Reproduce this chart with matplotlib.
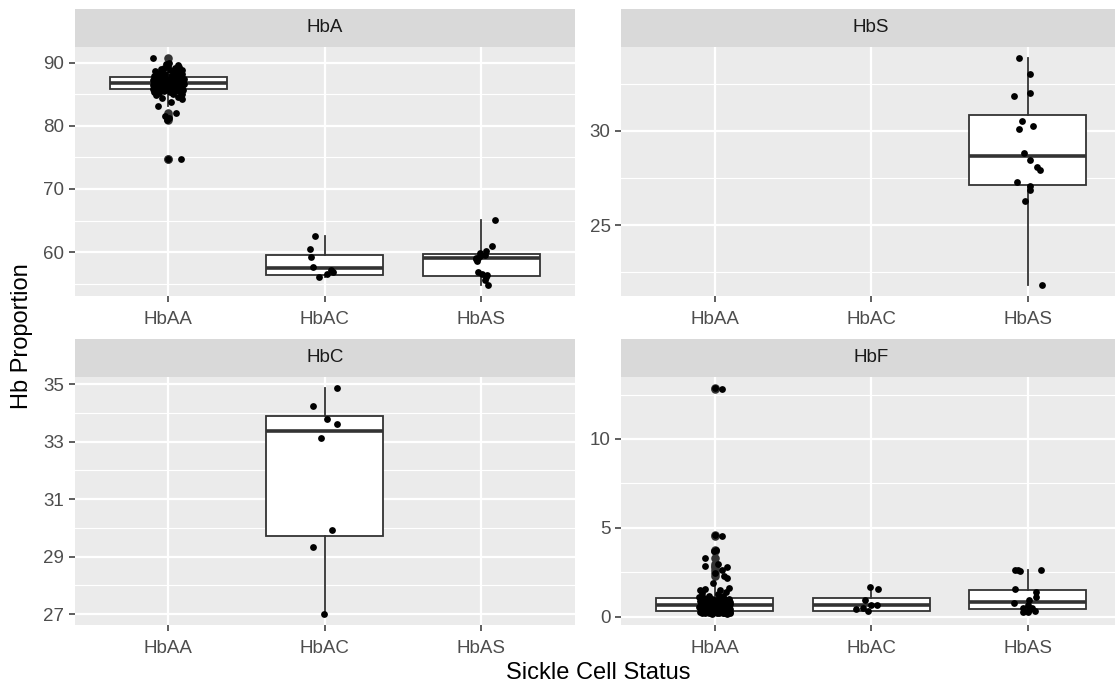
import matplotlib
matplotlib.use("Agg")
import matplotlib.pyplot as plt
import numpy as np

plt.rcParams['font.family'] = ['Liberation Sans', 'DejaVu Sans']

# ---------------- data ----------------
categories = ["HbAA", "HbAC", "HbAS"]
panels = ["HbA", "HbS", "HbC", "HbF"]

# HbA panel
hba_hbaa = [74.7, 74.8, 80.9, 81.2, 81.6, 82.0, 83.2, 83.8, 84.2, 84.4,
            84.6, 84.9, 85.0, 85.1, 85.2, 85.3, 85.4, 85.5, 85.6, 85.6,
            85.7, 85.7, 85.8, 85.8, 85.9, 85.9, 86.0, 86.0, 86.1, 86.1,
            86.2, 86.2, 86.3, 86.3, 86.3, 86.4, 86.4, 86.4, 86.5, 86.5,
            86.5, 86.6, 86.6, 86.6, 86.7, 86.7, 86.7, 86.8, 86.8, 86.8,
            86.9, 86.9, 86.9, 87.0, 87.0, 87.0, 87.1, 87.1, 87.1, 87.2,
            87.2, 87.2, 87.3, 87.3, 87.3, 87.4, 87.4, 87.4, 87.5, 87.5,
            87.5, 87.6, 87.6, 87.7, 87.7, 87.8, 87.8, 87.9, 87.9, 88.0,
            88.0, 88.1, 88.2, 88.2, 88.3, 88.4, 88.5, 88.6, 88.7, 88.8,
            88.9, 89.0, 89.1, 89.2, 89.3, 89.5, 89.6, 89.8, 90.0, 90.7]
hba_hbac = [62.6, 60.47, 59.15, 57.67, 57.09, 56.8, 56.57, 56.05]
hba_hbas = [65.06, 61.0, 60.2, 59.8, 59.6, 59.3, 59.1, 59.0, 58.9, 58.6,
            56.84, 56.57, 56.4, 56.1, 55.6, 54.83]

# HbS panel
hbs_hbas = [33.85, 33.03, 32.0, 31.85, 30.55, 30.1, 30.28, 28.81, 28.47, 28.07,
            27.94, 27.27, 27.09, 26.88, 26.31, 21.85]

# HbC panel
hbc_hbac = [34.86, 34.25, 33.80, 33.63, 33.13, 29.93, 29.32, 27.01]

# HbF panel
hbf_hbaa = [12.85, 12.80, 4.58, 4.55, 3.75, 3.70, 3.30, 3.00, 2.85, 2.83,
            2.64, 2.45, 2.30, 2.18, 1.90, 1.62, 1.58, 1.53, 1.50, 1.42,
            1.35, 1.28, 1.20, 1.15, 1.10,
            1.06, 1.04, 1.03, 1.01, 1.00, 0.98, 0.97, 0.95, 0.94, 0.92,
            0.90, 0.89, 0.87, 0.86, 0.84, 0.83, 0.81, 0.79, 0.78, 0.76,
            0.74, 0.73, 0.71, 0.70, 0.68,
            0.67, 0.66, 0.65, 0.63, 0.62, 0.60, 0.59, 0.57, 0.56, 0.54,
            0.53, 0.51, 0.50, 0.48, 0.46, 0.45, 0.43, 0.42, 0.40, 0.39,
            0.38, 0.36, 0.35, 0.33, 0.32,
            0.31, 0.31, 0.30, 0.30, 0.29, 0.29, 0.29, 0.28, 0.28, 0.27,
            0.27, 0.26, 0.26, 0.25, 0.25, 0.24, 0.24, 0.23, 0.22, 0.22,
            0.21, 0.20, 0.20, 0.19, 0.18]
hbf_hbac = [1.68, 1.58, 0.97, 0.69, 0.69, 0.46, 0.50, 0.31]
hbf_hbas = [2.66, 2.62, 2.60, 2.62, 1.56, 1.40, 1.10, 0.97, 0.78, 0.69,
            0.52, 0.48, 0.40, 0.30, 0.28, 0.32]

# horizontal jitter (category units)
jit_hba_hbaa = [0.00, 0.078, -0.01, 0.005, -0.02, 0.05, -0.068, 0.02, 0.09, -0.04,
                0.06, -0.08, 0.03, 0.085, -0.06, 0.01, -0.09, 0.07, -0.03, 0.045,
                -0.075, 0.095, -0.015, 0.055, -0.095, 0.025, -0.05, 0.08, -0.02, 0.06,
                -0.085, 0.035, -0.04, 0.09, 0.0, -0.065, 0.05, -0.1, 0.015, 0.075,
                -0.035, 0.04, -0.08, 0.1, -0.01, 0.065, -0.055, 0.02, -0.09, 0.085,
                -0.025, 0.045, -0.07, 0.01, 0.095, -0.045, 0.055, -0.085, 0.03, -0.005,
                0.07, -0.06, 0.04, -0.095, 0.085, -0.03, 0.02, -0.075, 0.06, -0.015,
                0.1, -0.05, 0.035, -0.08, 0.075, -0.035, 0.05, -0.09, 0.015, 0.08,
                -0.06, 0.03, -0.02, 0.09, -0.07, 0.045, -0.04, 0.065, -0.085, 0.01,
                0.085, -0.05, 0.04, -0.025, 0.07, 0.0, 0.06, -0.015, 0.005, -0.098]
jit_hba_hbac = [-0.063, -0.095, -0.085, -0.076, 0.037, 0.05, 0.017, -0.034]
jit_hba_hbas = [0.090, 0.068, 0.030, -0.005, 0.025, -0.010, -0.035, -0.020, -0.030, -0.025,
                -0.017, 0.004, 0.037, 0.030, 0.023, 0.041]
jit_hbs_hbas = [-0.054, 0.017, 0.017, -0.087, -0.035, -0.054, 0.035, -0.024, 0.017, 0.059,
                0.078, -0.065, 0.017, 0.013, -0.015, 0.089]
jit_hbc_hbac = [0.078, -0.076, 0.017, 0.078, -0.024, 0.049, -0.076, -0.005]
jit_hbf_hbaa = [0.0, 0.043, 0.0, 0.043, 0.01, -0.005, -0.064, 0.02, -0.064, 0.075,
                0.043, 0.0, 0.06, 0.075, -0.01, 0.09, -0.06, -0.093, 0.03, 0.07,
                -0.08, 0.02, -0.04, 0.05, -0.1,
                0.035, -0.07, 0.09, -0.02, 0.06, -0.085, 0.01, 0.075, -0.045, 0.04,
                -0.095, 0.065, -0.03, 0.1, -0.06, 0.02, -0.01, 0.085, -0.075, 0.05,
                -0.04, 0.095, 0.0, -0.09, 0.03,
                0.07, -0.055, 0.015, -0.08, 0.045, -0.02, 0.09, -0.065, 0.025, -0.1,
                0.06, -0.035, 0.08, -0.005, 0.04, -0.07, 0.1, -0.045, 0.01, 0.055,
                -0.09, 0.03, -0.015, 0.075, -0.06,
                0.02, -0.08, 0.065, -0.03, 0.095, -0.05, 0.005, 0.045, -0.095, 0.07,
                -0.025, 0.035, -0.07, 0.085, -0.01, 0.055, -0.085, 0.015, 0.1, -0.04,
                0.06, -0.065, 0.025, -0.02, 0.08]
jit_hbf_hbac = [-0.01, 0.042, -0.038, 0.0, 0.038, -0.10, -0.053, -0.021]
jit_hbf_hbas = [-0.06, -0.08, -0.05, 0.085, -0.083, 0.053, 0.053, 0.006, -0.089, 0.0,
                -0.03, 0.03, 0.01, -0.032, 0.0, 0.05]

# box statistics: (whisker low, Q1, median, Q3, whisker high)
box_hba = {"HbAA": (83.2, 85.9, 86.8, 87.7, 90.0),
           "HbAC": (56.05, 56.41, 57.47, 59.53, 62.6),
           "HbAS": (54.83, 56.2, 59.05, 59.73, 65.06)}
box_hbs = {"HbAS": (21.85, 27.16, 28.65, 30.85, 33.85)}
box_hbc = {"HbAC": (27.01, 29.73, 33.36, 33.89, 34.86)}
box_hbf = {"HbAA": (0.18, 0.31, 0.67, 1.06, 2.18),
           "HbAC": (0.31, 0.35, 0.69, 1.04, 1.68),
           "HbAS": (0.28, 0.45, 0.85, 1.53, 2.66)}

# y ticks per panel (labels shown on axis)
yticks_hba = [60, 70, 80, 90]
yticks_hbs = [25, 30]
yticks_hbc = [27, 29, 31, 33, 35]
yticks_hbf = [0, 5, 10]

panel_points = {
    "HbA": {"HbAA": (hba_hbaa, jit_hba_hbaa), "HbAC": (hba_hbac, jit_hba_hbac), "HbAS": (hba_hbas, jit_hba_hbas)},
    "HbS": {"HbAS": (hbs_hbas, jit_hbs_hbas)},
    "HbC": {"HbAC": (hbc_hbac, jit_hbc_hbac)},
    "HbF": {"HbAA": (hbf_hbaa, jit_hbf_hbaa), "HbAC": (hbf_hbac, jit_hbf_hbac), "HbAS": (hbf_hbas, jit_hbf_hbas)},
}
panel_boxes = {"HbA": box_hba, "HbS": box_hbs, "HbC": box_hbc, "HbF": box_hbf}
panel_yticks = {"HbA": yticks_hba, "HbS": yticks_hbs, "HbC": yticks_hbc, "HbF": yticks_hbf}

# ---------------- layout ----------------
W, H = 1115, 686
fig = plt.figure(figsize=(W / 100, H / 100), dpi=100)
fig.patch.set_facecolor("white")


def rect(x0, y0, x1, y1):
    return [x0 / W, 1 - y1 / H, (x1 - x0) / W, (y1 - y0) / H]


panel_px = {"HbA": (74.5, 47, 575, 296), "HbS": (621, 47, 1121.5, 296),
            "HbC": (74.5, 377, 575, 625), "HbF": (621, 377, 1121.5, 625)}
STRIP_H = 38

GRID = "white"
BOXC = "#333333"

for p in panels:
    x0, y0, x1, y1 = panel_px[p]
    # strip
    sax = fig.add_axes(rect(x0, y0 - STRIP_H, x1, y0))
    sax.set_facecolor("#D9D9D9")
    sax.set_xticks([])
    sax.set_yticks([])
    for s in sax.spines.values():
        s.set_visible(False)
    sax.text(0.5, 0.5, p, transform=sax.transAxes,
             ha="center", va="center", fontsize=13.5, color="#1A1A1A")

    ax = fig.add_axes(rect(x0, y0, x1, y1))
    ax.set_facecolor("#EBEBEB")
    for s in ax.spines.values():
        s.set_visible(False)

    pts = panel_points[p]
    boxes = panel_boxes[p]

    # ticks and grid
    yt = panel_yticks[p]
    step = yt[1] - yt[0]
    minor = [t + step / 2 for t in [yt[0] - step] + yt]
    ax.set_yticks(yt)
    ax.set_yticklabels([str(t) for t in yt])
    ax.set_yticks(minor, minor=True)
    ax.set_xticks(range(len(categories)))
    ax.set_xticklabels(categories)
    ax.set_axisbelow(True)
    ax.grid(which="major", color=GRID, linewidth=1.6)
    ax.grid(which="minor", axis="y", color=GRID, linewidth=0.8)
    ax.tick_params(which="minor", length=0)
    ax.tick_params(which="major", length=4.5, width=1.1, color=BOXC,
                   labelsize=13.5, labelcolor="#4D4D4D")
    ax.tick_params(axis="x", pad=6)
    ax.tick_params(axis="y", pad=3)

    # boxes
    stats = []
    pos = []
    for c in categories:
        if c in boxes:
            wl, q1, md, q3, wh = boxes[c]
            stats.append(dict(whislo=wl, q1=q1, med=md, q3=q3, whishi=wh, fliers=[]))
            pos.append(categories.index(c))
    ax.bxp(stats, positions=pos, widths=0.75, showfliers=False, showcaps=False,
           patch_artist=True, manage_ticks=False,
           boxprops=dict(facecolor="white", edgecolor=BOXC, linewidth=1.3),
           medianprops=dict(color=BOXC, linewidth=2.6, solid_capstyle="butt"),
           whiskerprops=dict(color=BOXC, linewidth=1.3),
           zorder=2)

    # outliers (drawn at category centre, like the boxplot geom)
    for c in categories:
        if c in boxes and c in pts:
            wl, q1, md, q3, wh = boxes[c]
            vals = np.array(pts[c][0])
            out = vals[(vals < wl - 1e-9) | (vals > wh + 1e-9)]
            xi = categories.index(c)
            ax.scatter(np.full(len(out), xi), out, s=38, color=BOXC,
                       linewidths=0, zorder=3)

    # jittered points
    for c in categories:
        if c in pts:
            vals, jit = pts[c]
            xi = categories.index(c)
            ax.scatter(xi + np.array(jit), vals, s=24, color="black",
                       linewidths=0, zorder=4)

    # y range from data with 5% expansion (set last so ticks don't widen it)
    allv = []
    for c in pts:
        allv += list(pts[c][0])
    for c in boxes:
        allv += list(boxes[c])
    lo, hi = min(allv), max(allv)
    r = hi - lo
    ax.set_ylim(lo - 0.05 * r, hi + 0.05 * r)
    ax.set_xlim(-0.6, 2.6)

fig.text(598 / W, 1 - 673 / H, "Sickle Cell Status", ha="center", va="center",
         fontsize=17, color="black")
fig.text(22 / W, 1 - 336 / H, "Hb Proportion", ha="center", va="center",
         rotation=90, fontsize=17, color="black")

fig.savefig("out.png", dpi=100)
